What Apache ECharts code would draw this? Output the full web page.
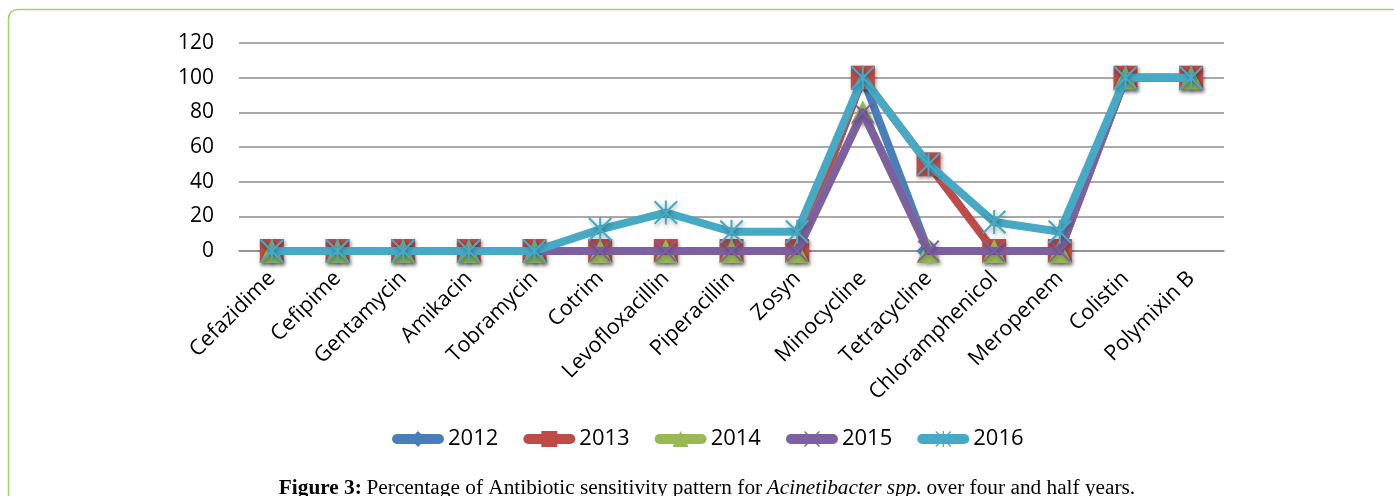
<!DOCTYPE html>
<html>
<head>
<meta charset="utf-8">
<script src="https://cdn.jsdelivr.net/npm/echarts@6/dist/echarts.min.js"></script>
<style>
  html, body { margin: 0; padding: 0; background: #ffffff; }
  #chart { width: 1394px; height: 496px; }
</style>
</head>
<body>
<div id="chart"></div>
<script>
// Antibiotics on the category axis
const categories = ['Cefazidime', 'Cefipime', 'Gentamycin', 'Amikacin', 'Tobramycin', 'Cotrim',
  'Levofloxacillin', 'Piperacillin', 'Zosyn', 'Minocycline', 'Tetracycline', 'Chloramphenicol',
  'Meropenem', 'Colistin', 'Polymixin B'];

// Percentage sensitive, per year
const years = ['2012', '2013', '2014', '2015', '2016'];
const s2012 = [0, 0, 0, 0, 0, 0, 0, 0, 0, 100, 0, 0, 0, 100, 100];
const s2013 = [0, 0, 0, 0, 0, 0, 0, 0, 0, 100, 50, 0, 0, 100, 100];
const s2014 = [0, 0, 0, 0, 0, 0, 0, 0, 0, 80, 0, 0, 0, 100, 100];
const s2015 = [0, 0, 0, 0, 0, 0, 0, 0, 0, 80, 0, 0, 0, 100, 100];
const s2016 = [0, 0, 0, 0, 0, 12.5, 22.2, 11.1, 11.1, 100, 50, 16.7, 11.1, 100, 100];

const yTicks = { min: 0, max: 120, step: 20 };

// Marker outlines: a thin X and a six-armed asterisk
const crossPath = 'path://M0,1.5 L1.5,0 L24,22.5 L22.5,24 Z M22.5,0 L24,1.5 L1.5,24 L0,22.5 Z';
const starPath = 'path://M0,1.5 L1.5,0 L24,22.5 L22.5,24 Z M22.5,0 L24,1.5 L1.5,24 L0,22.5 Z M11,0 L13,0 L13,24 L11,24 Z';

const seriesData = [s2012, s2013, s2014, s2015, s2016];
const colors = ['#4A7EBB', '#BE4B48', '#98B954', '#7D60A0', '#46AAC5'];
const symbols = ['diamond', 'rect', 'triangle', crossPath, starPath];
const symbolSizes = [24, 24, 24, 22, 24];

const chart = echarts.init(document.getElementById('chart'), null, { renderer: 'canvas' });

const series = years.map((y, i) => ({
  name: y,
  type: 'line',
  data: seriesData[i],
  z: 2 + i,
  color: colors[i],
  symbol: symbols[i],
  symbolSize: symbolSizes[i],
  showAllSymbol: true,
  lineStyle: { width: 8, color: colors[i], cap: 'round', join: 'round' },
  itemStyle: {
    color: colors[i],
    shadowColor: 'rgba(0,0,0,0.35)',
    shadowBlur: 4,
    shadowOffsetX: 1,
    shadowOffsetY: 2
  },
  emphasis: { disabled: true },
  animation: false
}));

const serif = 'Liberation Serif';
const captionSize = 21.3;

const option = {
  animation: false,
  textStyle: { fontFamily: 'Open Sans' },
  graphic: [{
    type: 'rect',
    shape: { x: 8.5, y: 9.5, width: 1420, height: 520, r: 9 },
    style: { fill: 'none', stroke: '#9ED36A', lineWidth: 1.5 },
    silent: true
  }],
  title: {
    left: 702,
    top: 473,
    textAlign: 'center',
    text: '{b|Figure 3:} {n|Percentage of Antibiotic sensitivity pattern for} {i|Acinetibacter spp.} {n|over four and half years.}',
    textStyle: {
      fontWeight: 'normal',
      rich: {
        b: { fontFamily: serif, fontWeight: 'bold', fontSize: captionSize, color: '#000' },
        n: { fontFamily: serif, fontWeight: 'normal', fontSize: captionSize, color: '#000' },
        i: { fontFamily: serif, fontWeight: 'normal', fontStyle: 'italic', fontSize: captionSize, color: '#000' }
      }
    }
  },
  legend: {
    left: 387,
    top: 423,
    itemWidth: 42,
    itemHeight: 20,
    itemGap: 25,
    data: years,
    lineStyle: { width: 10, cap: 'round' },
    textStyle: { fontFamily: 'Open Sans', fontSize: 22, color: '#000', padding: [0, 0, 0, 4] }
  },
  grid: { left: 239, right: 170, top: 43, bottom: 245, containLabel: false },
  xAxis: {
    type: 'category',
    data: categories,
    boundaryGap: true,
    axisLine: { show: true, lineStyle: { color: '#8C8C8C', width: 1.5 } },
    axisTick: { show: false },
    axisLabel: {
      rotate: 45,
      interval: 0,
      margin: 24,
      fontFamily: 'Open Sans',
      fontSize: 21.5,
      color: '#000'
    }
  },
  yAxis: {
    type: 'value',
    min: yTicks.min,
    max: yTicks.max,
    interval: yTicks.step,
    axisLine: { show: false },
    axisTick: { show: false },
    splitLine: { lineStyle: { color: '#8C8C8C', width: 1.5 } },
    axisLabel: { margin: 25, fontFamily: 'Open Sans', fontSize: 21, color: '#000' }
  },
  series: series
};

chart.setOption(option);
</script>
</body>
</html>
